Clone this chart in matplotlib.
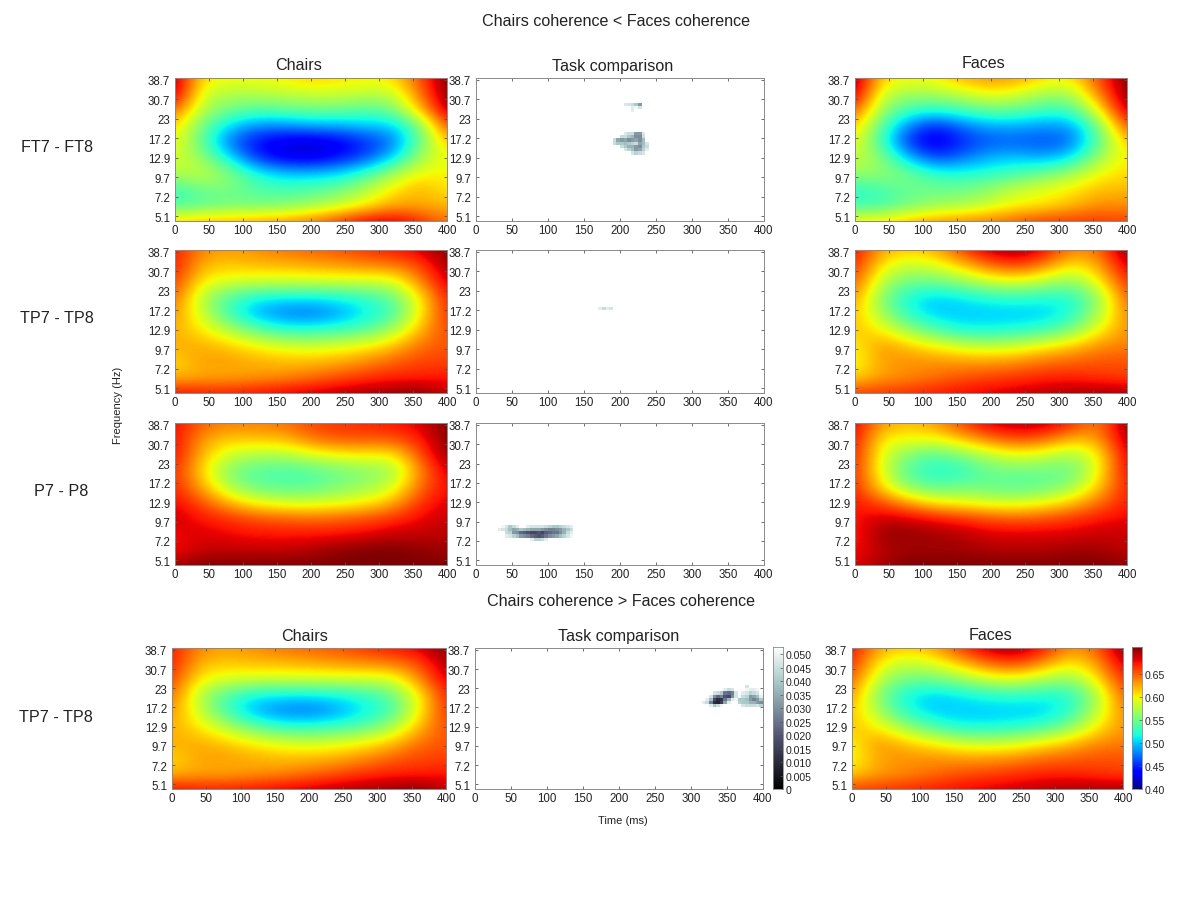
import numpy as np
import matplotlib
matplotlib.use('Agg')
import matplotlib.pyplot as plt

plt.rcParams['font.family'] = ['Liberation Sans', 'DejaVu Sans']

W, H = 1200, 912

FREQ_LABELS = ['5.1', '7.2', '9.7', '12.9', '17.2', '23', '30.7', '38.7']
TIME_TICKS = [0, 50, 100, 150, 200, 250, 300, 350, 400]
COH_TICKS = [0.40, 0.45, 0.50, 0.55, 0.60, 0.65]
P_TICKS = [0, 0.005, 0.01, 0.015, 0.02, 0.025, 0.03, 0.035, 0.04, 0.045, 0.05]
P_TICK_LABELS = ['0', '0.005', '0.010', '0.015', '0.020', '0.025', '0.030',
                 '0.035', '0.040', '0.045', '0.050']

# coherence x 1000, first row = bottom edge, last row = top edge, 40 ms columns
FT_CHAIRS = [
    [615, 625, 625, 630, 635, 645, 665, 685, 690, 670, 645],
    [535, 540, 550, 550, 555, 565, 580, 600, 625, 625, 620],
    [530, 550, 555, 540, 535, 540, 550, 575, 605, 625, 605],
    [575, 585, 560, 520, 500, 500, 505, 530, 570, 600, 600],
    [590, 565, 510, 450, 430, 425, 440, 460, 500, 570, 600],
    [600, 545, 470, 440, 425, 420, 430, 450, 470, 545, 620],
    [615, 550, 505, 480, 480, 490, 490, 500, 500, 550, 660],
    [650, 575, 550, 540, 545, 550, 550, 540, 550, 615, 700],
    [700, 585, 575, 575, 580, 585, 585, 580, 580, 640, 710],
    [700, 605, 600, 600, 605, 615, 610, 605, 605, 655, 710],
]
FT_FACES = [
    [605, 610, 625, 635, 640, 645, 655, 665, 665, 665, 660],
    [530, 530, 550, 565, 570, 585, 600, 605, 620, 635, 635],
    [525, 535, 550, 550, 550, 565, 585, 595, 605, 620, 620],
    [565, 565, 550, 525, 520, 525, 535, 550, 570, 600, 610],
    [585, 560, 495, 455, 475, 495, 500, 490, 510, 570, 605],
    [600, 530, 445, 425, 450, 465, 465, 460, 470, 545, 620],
    [620, 540, 475, 445, 475, 490, 490, 485, 485, 555, 660],
    [655, 565, 530, 525, 535, 550, 545, 530, 535, 600, 700],
    [700, 580, 570, 570, 585, 600, 590, 570, 570, 640, 710],
    [705, 610, 600, 605, 625, 635, 630, 610, 605, 660, 710],
]
TP_CHAIRS = [
    [680, 675, 675, 680, 685, 690, 695, 700, 705, 710, 690],
    [620, 625, 625, 630, 635, 645, 655, 665, 670, 670, 675],
    [610, 630, 630, 625, 620, 620, 625, 635, 650, 660, 660],
    [625, 625, 615, 600, 590, 585, 590, 600, 615, 645, 655],
    [625, 605, 575, 545, 525, 525, 530, 540, 570, 620, 660],
    [635, 585, 530, 490, 475, 470, 485, 510, 530, 600, 670],
    [650, 575, 535, 515, 510, 510, 515, 525, 545, 600, 675],
    [665, 600, 590, 585, 585, 585, 585, 585, 585, 635, 690],
    [675, 620, 615, 620, 620, 625, 630, 635, 640, 655, 700],
    [675, 635, 630, 635, 645, 650, 655, 665, 675, 685, 710],
]
TP_FACES = [
    [665, 665, 670, 675, 680, 685, 690, 695, 700, 700, 700],
    [610, 630, 635, 645, 655, 660, 665, 670, 670, 665, 660],
    [595, 630, 635, 635, 630, 630, 635, 645, 650, 655, 655],
    [600, 635, 615, 600, 585, 580, 585, 600, 615, 635, 640],
    [620, 600, 565, 535, 515, 515, 520, 530, 555, 600, 635],
    [620, 570, 520, 500, 500, 500, 500, 500, 520, 575, 640],
    [635, 555, 515, 500, 510, 520, 525, 520, 520, 565, 655],
    [655, 575, 550, 550, 565, 585, 590, 575, 560, 600, 670],
    [670, 600, 580, 590, 615, 645, 660, 635, 600, 625, 690],
    [680, 625, 615, 625, 665, 695, 705, 680, 635, 645, 710],
]
P_CHAIRS = [
    [700, 710, 710, 710, 710, 710, 710, 710, 710, 710, 710],
    [675, 690, 690, 690, 690, 695, 705, 710, 710, 705, 700],
    [680, 685, 680, 675, 675, 675, 675, 680, 690, 690, 695],
    [690, 675, 665, 655, 650, 645, 650, 655, 665, 680, 690],
    [680, 655, 620, 595, 585, 585, 590, 600, 620, 665, 685],
    [670, 625, 570, 545, 540, 540, 555, 565, 585, 645, 680],
    [670, 610, 555, 540, 535, 540, 550, 560, 565, 635, 690],
    [680, 620, 585, 575, 575, 590, 600, 605, 600, 655, 705],
    [680, 630, 615, 620, 620, 645, 655, 655, 655, 670, 710],
    [680, 650, 640, 640, 645, 660, 665, 670, 675, 685, 710],
]
P_FACES = [
    [685, 700, 710, 710, 710, 710, 710, 710, 710, 710, 705],
    [675, 695, 700, 700, 700, 695, 695, 695, 700, 700, 690],
    [670, 705, 705, 700, 695, 685, 685, 685, 685, 690, 690],
    [675, 690, 685, 675, 665, 655, 650, 655, 665, 675, 680],
    [675, 655, 625, 600, 595, 585, 585, 595, 615, 645, 675],
    [670, 605, 555, 540, 550, 545, 540, 545, 565, 615, 675],
    [670, 590, 535, 520, 525, 550, 550, 550, 545, 600, 685],
    [675, 590, 555, 540, 560, 580, 595, 585, 570, 600, 690],
    [680, 600, 600, 600, 620, 645, 660, 650, 620, 630, 700],
    [685, 630, 620, 630, 665, 690, 695, 695, 670, 635, 710],
]

# p value x 1000 for the significant clusters, top row first, 5 ms x 1/6 tick cells
FT_BLOB = [
    [50, 50, 50, 45, 42, 42, 30, 30, 45, 50],
    [50, 50, 42, 42, 38, 35, 28, 28, 42, 50],
    [42, 32, 30, 32, 28, 30, 32, 28, 36, 50],
    [42, 38, 38, 36, 38, 40, 42, 32, 36, 44],
    [50, 50, 42, 38, 34, 34, 30, 28, 38, 42],
    [50, 50, 50, 44, 40, 36, 30, 32, 40, 46],
    [50, 50, 50, 50, 50, 44, 40, 42, 44, 50],
]
FT_BLOB_SMALL = [
    [45, 44, 42, 38, 30],
    [50, 50, 46, 48, 44],
    [50, 50, 46, 50, 50],
]
TP_BLOB = [[46, 42, 46, 44]]
P_BLOB = [
    [50, 48, 44, 38, 42, 46, 50, 50, 46, 44, 44, 44, 44, 42, 40, 38, 38, 40, 42, 44, 46],
    [46, 44, 42, 36, 32, 34, 38, 36, 34, 32, 32, 32, 30, 28, 26, 26, 28, 30, 34, 38, 42],
    [50, 50, 42, 40, 30, 28, 22, 20, 18, 16, 16, 18, 16, 20, 22, 24, 24, 28, 34, 42, 46],
    [50, 50, 46, 44, 40, 36, 30, 28, 26, 22, 20, 18, 20, 24, 28, 30, 32, 36, 40, 44, 48],
    [50, 50, 50, 50, 50, 50, 50, 50, 50, 46, 40, 40, 42, 46, 50, 50, 50, 50, 50, 50, 50],
]
TP_BLOB_GT = [
    [50, 50, 50, 50, 50, 50, 50, 50, 50, 50, 50, 50, 44, 50, 50, 50, 50, 50],
    [50, 50, 50, 50, 50, 50, 46, 42, 44, 50, 50, 50, 48, 46, 46, 48, 50, 50],
    [50, 50, 50, 44, 42, 38, 24, 22, 26, 44, 50, 46, 44, 40, 42, 44, 50, 50],
    [50, 50, 44, 28, 22, 26, 18, 16, 28, 44, 48, 42, 40, 30, 32, 36, 46, 50],
    [50, 46, 36, 16, 10, 12, 24, 34, 46, 48, 38, 38, 36, 30, 26, 30, 38, 42],
    [46, 42, 26, 10, 8, 14, 32, 46, 50, 50, 40, 38, 38, 34, 34, 30, 28, 30],
    [50, 50, 46, 38, 42, 48, 50, 50, 50, 50, 50, 44, 42, 42, 42, 44, 40, 42],
]

# cluster list per panel: (array, first time in ms, frequency position of top row)
TASK_FT = [(FT_BLOB, 190, 4.33), (FT_BLOB_SMALL, 205, 5.83)]
TASK_TP = [(TP_BLOB, 170, 4.0)]
TASK_P = [(P_BLOB, 30, 1.67)]
TASK_GT = [(TP_BLOB_GT, 315, 5.0)]

Y_LOW, Y_HIGH = -0.25, 7.1
COH_MIN, COH_MAX = 0.40, 0.71
P_MAX = 0.0526


def axes_px(fig, left, right, top, bottom):
    return fig.add_axes([left / W, 1 - bottom / H, (right - left) / W, (bottom - top) / H])


def style_axes(ax):
    ax.set_xlim(0, 400)
    ax.set_ylim(Y_LOW, Y_HIGH)
    ax.set_xticks(TIME_TICKS)
    ax.set_yticks(np.arange(len(FREQ_LABELS)))
    ax.set_yticklabels(FREQ_LABELS)
    ax.tick_params(direction='in', length=2.5, width=0.6, labelsize=8.3, pad=2,
                   top=True, right=True, color='#555555', labelcolor='#222222')
    ax.tick_params(axis='y', pad=3.5)
    for spine in ax.spines.values():
        spine.set_color('#8a8a8a')
        spine.set_linewidth(0.7)


def coherence_panel(fig, box, values):
    ax = axes_px(fig, *box)
    grid = np.array(values) / 1000
    step_y = (Y_HIGH - Y_LOW) / (grid.shape[0] - 1)
    ax.imshow(grid, cmap='jet', vmin=COH_MIN, vmax=COH_MAX, origin='lower', aspect='auto',
              interpolation='bicubic',
              extent=(-20, 420, Y_LOW - step_y / 2, Y_HIGH + step_y / 2))
    style_axes(ax)
    return ax


def task_panel(fig, box, clusters):
    ax = axes_px(fig, *box)
    grid = np.full((46, 80), 0.05)
    for cluster, start_time, top_pos in clusters:
        cells = np.array(cluster) / 1000
        col0 = int(start_time / 5)
        row0 = int(round((top_pos - Y_LOW) * 6))
        for r in range(cells.shape[0]):
            for c in range(cells.shape[1]):
                if col0 + c < grid.shape[1]:
                    grid[row0 - r, col0 + c] = cells[r, c]
    ax.imshow(grid, cmap='bone', vmin=0, vmax=0.05, origin='lower', aspect='auto',
              interpolation='nearest',
              extent=(0, 400, Y_LOW - 1 / 12, Y_LOW + 45 / 6 + 1 / 12))
    style_axes(ax)
    return ax


def colorbar_panel(fig, box, cmap, vmin, vmax, ticks, labels):
    ax = axes_px(fig, *box)
    ramp = np.linspace(vmin, vmax, 256).reshape(-1, 1)
    ax.imshow(ramp, cmap=cmap, vmin=vmin, vmax=vmax, origin='lower', aspect='auto',
              extent=(0, 1, vmin, vmax))
    ax.set_xticks([])
    ax.yaxis.tick_right()
    ax.set_yticks(ticks)
    ax.set_yticklabels(labels)
    ax.tick_params(direction='in', length=2, width=0.5, labelsize=7.6, pad=2,
                   color='#555555', labelcolor='#222222')
    for spine in ax.spines.values():
        spine.set_color('#8a8a8a')
        spine.set_linewidth(0.6)


def label(fig, x, y, text, size=11.6, **kwargs):
    fig.text(x / W, 1 - y / H, text, fontsize=size, ha='center', va='center',
             color='#222222', **kwargs)


fig = plt.figure(figsize=(W / 100, H / 100), dpi=100)

rows = [(79, 222), (251, 394), (424, 566)]
chairs = [FT_CHAIRS, TP_CHAIRS, P_CHAIRS]
faces = [FT_FACES, TP_FACES, P_FACES]
tasks = [TASK_FT, TASK_TP, TASK_P]
for (top, bottom), ch, fa, ta in zip(rows, chairs, faces, tasks):
    coherence_panel(fig, (175, 447, top, bottom), ch)
    task_panel(fig, (476, 764, top, bottom), ta)
    coherence_panel(fig, (855, 1127, top, bottom), fa)

coherence_panel(fig, (172, 446, 649, 790), TP_CHAIRS)
task_panel(fig, (475, 763, 649, 790), TASK_GT)
coherence_panel(fig, (852, 1123, 649, 790), TP_FACES)

colorbar_panel(fig, (773, 783, 648, 790), 'bone', 0, P_MAX, P_TICKS, P_TICK_LABELS)
colorbar_panel(fig, (1132, 1142, 648, 790), 'jet', COH_MIN, COH_MAX, COH_TICKS,
               ['%.2f' % t for t in COH_TICKS])

label(fig, 616, 21, 'Chairs coherence < Faces coherence')
label(fig, 621, 602, 'Chairs coherence > Faces coherence')
label(fig, 299, 65, 'Chairs')
label(fig, 613, 66, 'Task comparison')
label(fig, 984, 64, 'Faces')
label(fig, 305, 637, 'Chairs')
label(fig, 619, 637, 'Task comparison')
label(fig, 990, 636, 'Faces')
label(fig, 57, 147, 'FT7 - FT8')
label(fig, 57, 319, 'TP7 - TP8')
label(fig, 61, 492, 'P7 - P8')
label(fig, 56, 717, 'TP7 - TP8')
label(fig, 118, 405, 'Frequency (Hz)', size=8, rotation=90)
label(fig, 623, 821, 'Time (ms)', size=8)

fig.savefig('out.png', dpi=100)
